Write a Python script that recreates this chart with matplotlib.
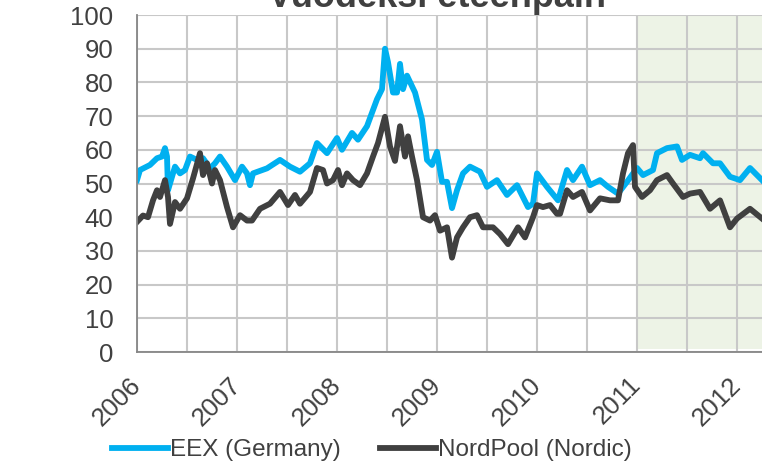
import matplotlib
matplotlib.use('Agg')
import matplotlib.pyplot as plt
from matplotlib.ticker import MultipleLocator
from matplotlib.transforms import ScaledTranslation

plt.rcParams['font.family'] = ['Liberation Sans', 'DejaVu Sans']

# EEX (Germany), year-ahead price
eex_t = [2006.00, 2006.03, 2006.13, 2006.20, 2006.25, 2006.28, 2006.30, 2006.31,
         2006.35, 2006.38, 2006.43, 2006.48, 2006.53, 2006.60, 2006.66, 2006.73,
         2006.78, 2006.83, 2006.90, 2006.98, 2007.05, 2007.10, 2007.13, 2007.16,
         2007.30, 2007.43, 2007.53, 2007.63, 2007.73, 2007.80, 2007.90, 2008.00,
         2008.05, 2008.15, 2008.21, 2008.30, 2008.40, 2008.45, 2008.48, 2008.51,
         2008.56, 2008.60, 2008.63, 2008.66, 2008.70, 2008.78, 2008.85, 2008.90,
         2008.95, 2009.00, 2009.05, 2009.10, 2009.15, 2009.20, 2009.26, 2009.33,
         2009.43, 2009.50, 2009.60, 2009.70, 2009.80, 2009.91, 2009.96, 2010.00,
         2010.10, 2010.21, 2010.30, 2010.36, 2010.45, 2010.53, 2010.63, 2010.71,
         2010.81, 2010.90, 2011.00, 2011.06, 2011.16, 2011.20, 2011.30, 2011.40,
         2011.45, 2011.53, 2011.63, 2011.66, 2011.76, 2011.83, 2011.93, 2012.03,
         2012.13, 2012.25]
eex_v = [51, 54, 55.5, 57.5, 58, 60.5, 58, 48,
         52, 55, 53, 54, 58, 57, 57.5, 54.5,
         56, 58, 55, 51, 55, 53, 49.5, 53,
         54.5, 57, 55, 53.5, 56, 62, 59, 63.5,
         60, 65, 63, 67, 75, 78, 90, 86,
         77, 77, 85.5, 78, 82, 77, 69, 57,
         55.5, 59.4, 50.5, 50.5, 42.7, 48, 53, 55,
         53.5, 49, 51, 46.6, 49.5, 43, 44, 53,
         49, 45, 54, 51, 55, 49.5, 51, 49,
         47, 50.5, 54.6, 52.5, 54, 59, 60.5, 61,
         57, 58.5, 57.5, 59, 56, 56, 52, 51,
         54.6, 51]

# NordPool (Nordic)
nord_t = [2006.00, 2006.06, 2006.11, 2006.16, 2006.20, 2006.23, 2006.28, 2006.31,
          2006.33, 2006.38, 2006.43, 2006.50, 2006.56, 2006.63, 2006.66, 2006.70,
          2006.75, 2006.78, 2006.83, 2006.90, 2006.96, 2007.03, 2007.10, 2007.15,
          2007.23, 2007.33, 2007.43, 2007.51, 2007.58, 2007.63, 2007.73, 2007.80,
          2007.86, 2007.90, 2007.96, 2008.01, 2008.05, 2008.10, 2008.16, 2008.23,
          2008.30, 2008.36, 2008.41, 2008.48, 2008.53, 2008.58, 2008.63, 2008.68,
          2008.71, 2008.75, 2008.80, 2008.86, 2008.93, 2008.98, 2009.03, 2009.10,
          2009.15, 2009.20, 2009.26, 2009.33, 2009.40, 2009.46, 2009.56, 2009.63,
          2009.71, 2009.81, 2009.88, 2009.96, 2010.00, 2010.06, 2010.13, 2010.20,
          2010.23, 2010.30, 2010.36, 2010.45, 2010.53, 2010.63, 2010.73, 2010.81,
          2010.86, 2010.91, 2010.96, 2010.98, 2011.05, 2011.13, 2011.20, 2011.30,
          2011.36, 2011.46, 2011.53, 2011.63, 2011.73, 2011.83, 2011.93, 2012.00,
          2012.13, 2012.25]
nord_v = [38.6, 40.5, 40, 45, 48, 46, 51, 46,
          38, 44.5, 42.5, 45.6, 51.5, 59, 52.5, 56,
          50, 54, 51, 43, 37, 40.6, 39, 39,
          42.5, 44, 47.5, 43.6, 46.6, 44, 47.5, 54.6,
          54, 50, 51, 54, 49.5, 53, 51, 49.5,
          53, 58, 62, 69.8, 61, 56.7, 67, 58,
          64, 58, 51, 40, 39, 40.6, 36, 37,
          28, 34, 37, 40, 40.6, 37, 37, 35,
          32, 37, 34, 40, 43.6, 43, 43.6, 41,
          41, 48, 46, 47.5, 42, 45.6, 45, 45,
          53, 59, 61.4, 49, 46, 48, 51, 52.5,
          50, 46, 47, 47.5, 42.5, 45, 37, 39.6,
          42.5, 39.6]

years = [2006, 2007, 2008, 2009, 2010, 2011, 2012]
y_ticks = list(range(0, 101, 10))
forecast_start = 2011.0

txt = '#404040'
fig = plt.figure(figsize=(7.62, 4.62), dpi=100)
ax = fig.add_axes([137 / 762, 110 / 462, 1 - 137 / 762, 337 / 462])

ax.axvspan(forecast_start, 2013, ymin=0.008, ymax=1, color='#EDF3E6', lw=0, zorder=0)
ax.plot(eex_t, eex_v, color='#00B0F0', lw=4.2, label='EEX (Germany)', zorder=3,
        solid_joinstyle='round')
ax.plot(nord_t, nord_v, color='#404040', lw=4.2, label='NordPool (Nordic)', zorder=3,
        solid_joinstyle='round')

ax.set_xlim(2006, 2012.25)
ax.set_ylim(0, 100)
ax.set_xticks(years)
ax.set_xticklabels([str(y) for y in years], rotation=45, ha='right', va='center',
                   rotation_mode='anchor')
shift = ScaledTranslation(-5 / 100, 0, fig.dpi_scale_trans)
for lab in ax.get_xticklabels():
    lab.set_transform(lab.get_transform() + shift)
ax.xaxis.set_minor_locator(MultipleLocator(0.5))
ax.set_yticks(y_ticks)
ax.grid(True, which='both', color='#C8C8C8', lw=1.5, zorder=1)
ax.set_axisbelow(True)
ax.tick_params(axis='y', length=0, pad=17, labelsize=18.5, labelcolor=txt)
ax.tick_params(axis='x', which='both', length=0, pad=21, labelsize=18.5, labelcolor=txt)
for s in ['top', 'right']:
    ax.spines[s].set_visible(False)
for s in ['left', 'bottom']:
    ax.spines[s].set_color('#868686')
    ax.spines[s].set_linewidth(1.3)
    ax.spines[s].set_zorder(4)

fig.text(437 / 762, 1 - 7 / 462, 'Vuodeksi eteenpäin', ha='center', va='baseline',
         fontsize=26, fontweight='bold', color=txt)

fig.legend(loc='center', bbox_to_anchor=(372 / 762, 1 - 450 / 462), ncol=2,
           frameon=False, fontsize=17.5, handlelength=2.3, handletextpad=0.1,
           columnspacing=1.6, labelcolor=txt, borderaxespad=0)

fig.savefig('out.png', dpi=100)
